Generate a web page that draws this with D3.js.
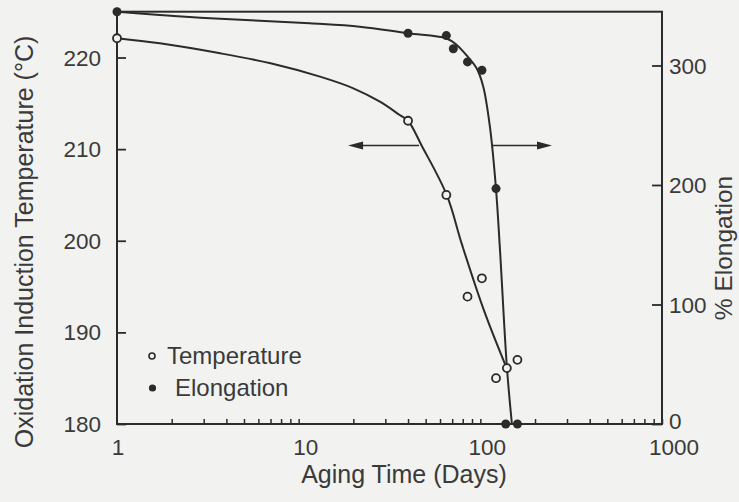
<!DOCTYPE html>
<html>
<head>
<meta charset="utf-8">
<script src="https://cdn.jsdelivr.net/npm/d3@7/dist/d3.min.js"></script>
<style>
  html, body { margin: 0; padding: 0; background: #f2f2f0; }
  svg { display: block; }
  text { font-family: "Liberation Sans", Arial, Helvetica, sans-serif; fill: #3a3a3a; }
</style>
</head>
<body>
<svg id="chart" width="739" height="502"></svg>
<script>
// Oxidation induction temperature (left axis) and % elongation (right axis) vs aging time

// Measured points
const tempDays  = [1, 40, 65, 85, 102, 122, 140, 160];
const tempVals  = [222.1, 213.1, 205.0, 193.9, 195.9, 185.0, 186.1, 187.0];
const elongDays = [1, 40, 65, 71, 85, 102, 122, 138, 160];
const elongVals = [345, 327, 325, 314, 303, 296, 197, 0, 0];

// Hand-fitted trend curves
const tempFitDays  = [1, 1.72, 3.7, 7, 13.1, 20, 28, 36, 40, 47.5, 65.3, 79.2, 104.7, 139.6];
const tempFitVals  = [222.1, 221.55, 220.46, 219.37, 217.91, 216.64, 215.18, 213.73, 213.1, 210.4, 205.0, 199.6, 192.4, 186.1];
const elongFitDays = [1, 1.72, 3.25, 11.5, 21.7, 39.8, 64.7, 74.1, 85.2, 95.4, 103.8, 112.9, 121.9, 128.3, 140, 149.2];
const elongFitVals = [345, 342.3, 339.5, 335.3, 332.5, 327.0, 322.8, 317.2, 307.4, 297.7, 282.3, 248.8, 197.2, 145.6, 47.7, 0];

// Axis ticks and labels
const xTicks      = [1, 10, 100, 1000];
const tempTicks   = [180, 190, 200, 210, 220];
const elongTicks  = [0, 100, 200, 300];
const xTitle      = "Aging Time (Days)";
const leftTitle   = "Oxidation Induction Temperature (°C)";
const rightTitle  = "% Elongation";
const legendItems = ["Temperature", "Elongation"];

// Pointers showing which axis each curve belongs to (level on the temperature axis)
const arrowLevel = 210.4;
const arrows = [ {from: 46, to: 18.7}, {from: 116, to: 248} ];

const ink = "#2b2b2b";
const bg = "#f2f2f0";
const svg = d3.select("#chart");
const m = {left: 117, right: 662, top: 11.7, bottom: 424};

const x  = d3.scaleLog().domain([1, 1000]).range([m.left, m.right]);
const yT = d3.scaleLinear().domain([180, 225]).range([m.bottom, m.top]);
const yE = d3.scaleLinear().domain([0, 345]).range([m.bottom, m.top]);

// Frame: left, bottom, right axes and top border
svg.append("rect")
  .attr("x", m.left).attr("y", m.top)
  .attr("width", m.right - m.left).attr("height", m.bottom - m.top)
  .attr("fill", "none").attr("stroke", ink).attr("stroke-width", 2);

// Bottom axis: minor ticks every decade, pointing inward
const minor = [];
for (let d = 1; d < 1000; d *= 10) for (let k = 2; k <= 10; k++) minor.push(d * k);
const gx = svg.append("g").attr("transform", `translate(0,${m.bottom})`)
  .call(d3.axisTop(x).tickValues(minor).tickSize(5).tickFormat(""));
gx.select(".domain").remove();
gx.selectAll("line").attr("stroke", ink).attr("stroke-width", 1.5);

svg.append("g").selectAll("text").data(xTicks).join("text")
  .attr("x", d => x(d) + (d === 1 ? 1 : d === 1000 ? 12 : 7))
  .attr("y", 455)
  .attr("text-anchor", "middle")
  .attr("font-size", 22.5)
  .text(d => d);

// Left axis
const gl = svg.append("g").attr("transform", `translate(${m.left},0)`)
  .call(d3.axisRight(yT).tickValues(tempTicks).tickSize(9).tickFormat(""));
gl.select(".domain").remove();
gl.selectAll("line").attr("stroke", ink).attr("stroke-width", 1.8);
svg.append("g").selectAll("text").data(tempTicks).join("text")
  .attr("x", 101).attr("y", d => yT(d)).attr("dy", "0.36em")
  .attr("text-anchor", "end").attr("font-size", 22.5).text(d => d);

// Right axis
const gr = svg.append("g").attr("transform", `translate(${m.right},0)`)
  .call(d3.axisLeft(yE).tickValues(elongTicks).tickSize(10).tickFormat(""));
gr.select(".domain").remove();
gr.selectAll("line").attr("stroke", ink).attr("stroke-width", 1.8);
svg.append("g").selectAll("text").data(elongTicks).join("text")
  .attr("x", 669).attr("y", d => yE(d) - (d === 0 ? 3 : 0)).attr("dy", "0.36em")
  .attr("text-anchor", "start").attr("font-size", 22.5).text(d => d);

// Axis titles
svg.append("text").attr("x", 404).attr("y", 483)
  .attr("text-anchor", "middle").attr("font-size", 25).text(xTitle);
svg.append("text")
  .attr("transform", "translate(33,242) rotate(-90)")
  .attr("text-anchor", "middle").attr("font-size", 25).text(leftTitle);
svg.append("text")
  .attr("transform", "translate(732,248) rotate(-90)")
  .attr("text-anchor", "middle").attr("font-size", 24.5).text(rightTitle);

// Trend curves
const tempLine = d3.line().x(d => x(d[0])).y(d => yT(d[1])).curve(d3.curveCatmullRom.alpha(0.5));
const elongLine = d3.line().x(d => x(d[0])).y(d => yE(d[1])).curve(d3.curveCatmullRom.alpha(0.5));
svg.append("path").datum(d3.zip(tempFitDays, tempFitVals))
  .attr("d", tempLine).attr("fill", "none").attr("stroke", ink).attr("stroke-width", 2);
svg.append("path").datum(d3.zip(elongFitDays, elongFitVals))
  .attr("d", elongLine).attr("fill", "none").attr("stroke", ink).attr("stroke-width", 2);

// Axis pointers
arrows.forEach(a => {
  const y0 = yT(arrowLevel), x0 = x(a.from), x1 = x(a.to);
  const dir = Math.sign(x1 - x0);
  svg.append("line").attr("x1", x0).attr("x2", x1 - dir * 8).attr("y1", y0).attr("y2", y0)
    .attr("stroke", ink).attr("stroke-width", 1.6);
  svg.append("path")
    .attr("d", `M${x1},${y0} L${x1 - dir * 15},${y0 - 4} L${x1 - dir * 15},${y0 + 4} Z`)
    .attr("fill", ink);
});

// Measured points
svg.append("g").selectAll("circle").data(d3.zip(tempDays, tempVals)).join("circle")
  .attr("cx", d => x(d[0])).attr("cy", d => yT(d[1])).attr("r", 4)
  .attr("fill", bg).attr("stroke", ink).attr("stroke-width", 1.8);
svg.append("g").selectAll("circle").data(d3.zip(elongDays, elongVals)).join("circle")
  .attr("cx", d => x(d[0])).attr("cy", d => yE(d[1])).attr("r", 4.5)
  .attr("fill", ink);

// Legend
const lg = svg.append("g");
lg.append("circle").attr("cx", 152).attr("cy", 356).attr("r", 3)
  .attr("fill", bg).attr("stroke", ink).attr("stroke-width", 1.6);
lg.append("text").attr("x", 167).attr("y", 364).attr("font-size", 24).text(legendItems[0]);
lg.append("circle").attr("cx", 152.5).attr("cy", 388).attr("r", 3.6).attr("fill", ink);
lg.append("text").attr("x", 175).attr("y", 396).attr("font-size", 24).text(legendItems[1]);
</script>
</body>
</html>
